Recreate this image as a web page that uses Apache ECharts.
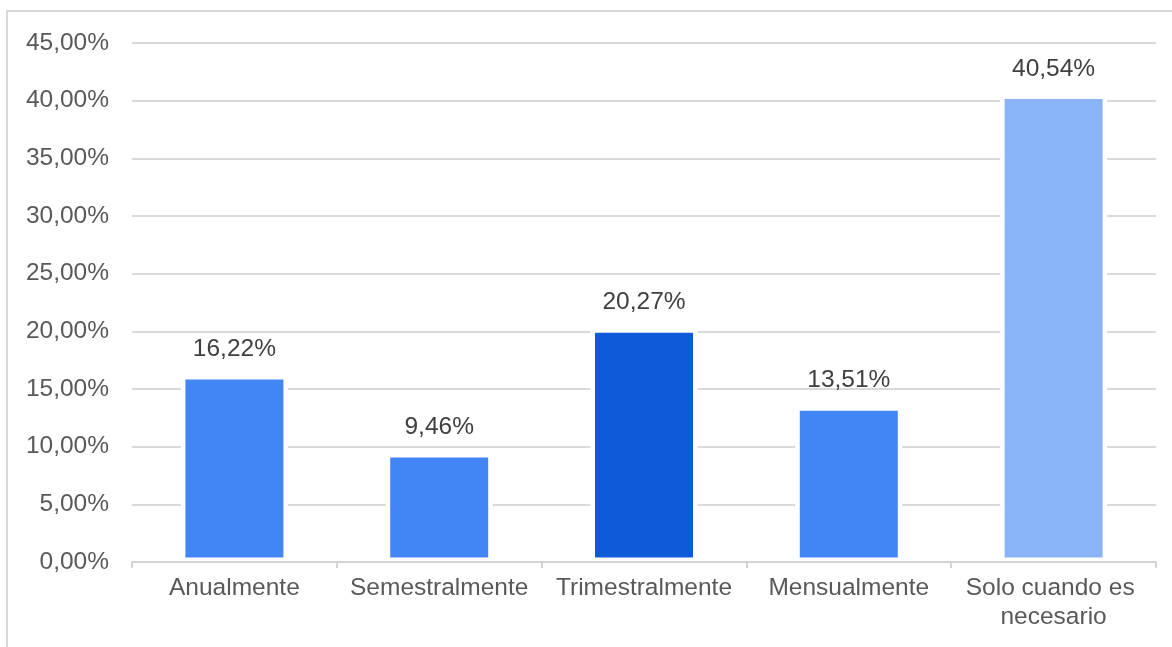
<!DOCTYPE html>
<html>
<head>
<meta charset="utf-8">
<script src="https://cdn.jsdelivr.net/npm/echarts@6/dist/echarts.min.js"></script>
<style>
  html, body { margin: 0; padding: 0; background: #fff; }
  #frame { position: absolute; left: 6px; top: 10px; width: 1180px; height: 660px;
           border-left: 2px solid #d9d9d9; border-top: 2px solid #d9d9d9; }
  #chart { position: absolute; left: 0; top: 0; width: 1172px; height: 647px; }
</style>
</head>
<body>
<div id="frame"></div>
<div id="chart"></div>
<script>
// frecuencia de revision (porcentaje)
var categories = ['Anualmente', 'Semestralmente', 'Trimestralmente', 'Mensualmente', 'Solo cuando es necesario'];
var values = [16.22, 9.46, 20.27, 13.51, 40.54];
var barColors = ['#4285f4', '#4285f4', '#0e5ad9', '#4285f4', '#8ab4f8'];

var yMax = 45;
var yStep = 5;

function fmtPct(v) {
    return v.toFixed(2).replace('.', ',') + '%';
}

var chartDom = document.getElementById('chart');
var myChart = echarts.init(chartDom);
var option = {
    animation: false,
    textStyle: { fontFamily: 'Liberation Sans, Arial, sans-serif' },
    grid: { left: 132, right: 16, top: 43, bottom: 85 },
    xAxis: {
        type: 'category',
        data: categories,
        z: 5,
        axisLine: { lineStyle: { color: '#d3d3d3', width: 2 } },
        axisTick: { show: true, length: 6, lineStyle: { color: '#d3d3d3', width: 2 } },
        axisLabel: {
            interval: 0,
            margin: 12,
            fontSize: 24.5,
            color: '#595959',
            width: 200,
            overflow: 'break',
            lineHeight: 29
        }
    },
    yAxis: {
        type: 'value',
        min: 0,
        max: yMax,
        interval: yStep,
        axisLine: { show: false },
        axisTick: { show: false },
        axisLabel: {
            margin: 23,
            fontSize: 24.5,
            color: '#595959',
            formatter: fmtPct
        },
        splitLine: { lineStyle: { color: '#dadada', width: 2 } }
    },
    series: [{
        type: 'bar',
        barWidth: 107,
        data: values.map(function (v, i) {
            return { value: v, itemStyle: { color: barColors[i] } };
        }),
        itemStyle: { borderColor: '#ffffff', borderWidth: 4.5 },
        label: {
            show: true,
            position: 'top',
            distance: 13,
            fontSize: 24.5,
            color: '#404040',
            formatter: function (p) { return fmtPct(p.value); }
        }
    }]
};
myChart.setOption(option);
</script>
</body>
</html>
